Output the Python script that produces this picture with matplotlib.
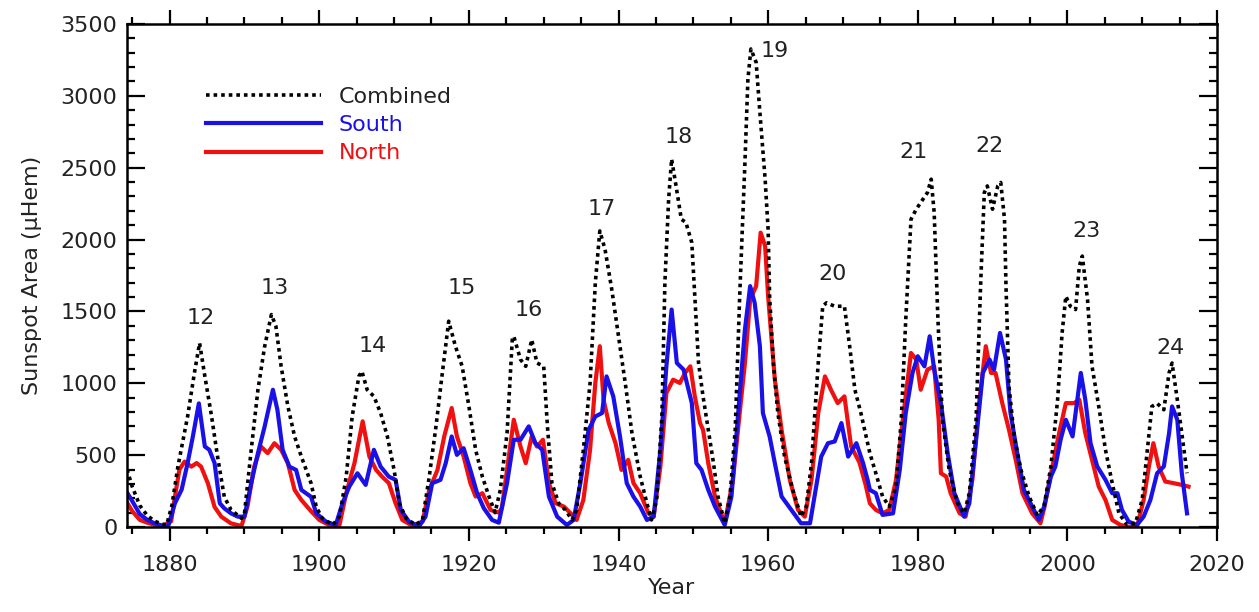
import matplotlib
matplotlib.use('Agg')
import matplotlib.pyplot as plt
from matplotlib.ticker import MultipleLocator

# Combined (N+S) area
combined_years = [1874.3, 1875, 1876, 1877, 1878, 1879, 1879.6, 1880.3, 1881.1, 1882.4, 1883.3, 1884.0,
                  1884.7, 1885.6, 1886.4, 1887.3, 1888.2, 1889.6, 1890.0, 1890.9, 1891.8, 1892.7, 1893.6,
                  1894.2, 1894.9, 1895.8, 1896.7, 1897.6, 1898.9, 1899.6, 1900.4, 1901.8, 1902.7, 1903.6,
                  1904.4, 1905.3, 1905.7, 1906.4, 1907.3, 1908.2, 1909.1, 1910.0, 1910.7, 1911.6, 1912.9,
                  1913.8, 1914.7, 1915.6, 1916.4, 1917.3, 1918.2, 1919.1, 1920.0, 1920.9, 1921.8, 1922.7,
                  1923.5, 1924.2, 1925.1, 1925.8, 1926.0, 1926.9, 1927.6, 1928.4, 1929.1, 1930.0, 1930.5,
                  1931.1, 1932.0, 1932.9, 1933.8, 1934.4, 1935.3, 1936.2, 1936.9, 1937.5, 1938.2, 1939.1,
                  1940.0, 1940.9, 1941.8, 1942.9, 1943.8, 1944.4, 1945.1, 1945.8, 1946.2, 1946.7, 1947.1,
                  1947.7, 1948.4, 1949.0, 1949.8, 1950.2, 1950.7, 1951.3, 1952.0, 1952.7, 1953.3, 1954.2,
                  1954.9, 1955.6, 1956.2, 1956.9, 1957.3, 1957.7, 1958.4, 1958.9, 1959.6, 1960.0, 1960.2,
                  1960.7, 1961.3, 1962.2, 1963.3, 1964.4, 1965.1, 1965.8, 1966.7, 1967.3, 1967.8, 1968.9,
                  1970.2, 1970.9, 1971.6, 1972.4, 1973.6, 1974.4, 1975.3, 1976.2, 1977.1, 1977.8, 1978.4,
                  1979.1, 1979.8, 1980.7, 1981.3, 1981.8, 1982.2, 1982.7, 1983.3, 1984.2, 1985.3, 1986.2,
                  1986.9, 1987.8, 1988.4, 1988.9, 1989.3, 1990.0, 1990.7, 1991.1, 1991.6, 1991.8, 1992.2,
                  1992.9, 1993.8, 1994.9, 1996.0, 1996.9, 1997.8, 1998.7, 1999.3, 1999.8, 2000.4, 2001.1,
                  2001.6, 2002.0, 2002.7, 2003.3, 2004.2, 2005.1, 2006.0, 2006.9, 2008.0, 2009.1, 2010.0,
                  2010.7, 2011.3, 2012.0, 2012.9, 2013.6, 2014.0, 2014.7, 2015.3, 2016.0]
combined_area = [400, 280, 150, 80, 40, 20, 15, 150, 420, 770, 1070, 1280,
                 1050, 770, 490, 210, 120, 60, 95, 537, 955, 1257, 1478,
                 1397, 1118, 840, 630, 490, 305, 140, 60, 14, 72, 350,
                 770, 1050, 1083, 955, 909, 793, 630, 397, 165, 60, 14,
                 50, 350, 700, 1050, 1432, 1257, 1118, 840, 537, 350, 210,
                 100, 258, 653, 1304, 1327, 1165, 1118, 1304, 1141, 1118, 700,
                 305, 165, 118, 49, 118, 537, 1002, 1699, 2060, 1932, 1653,
                 1327, 1002, 653, 351, 165, 49, 188, 769, 1699, 2280, 2560,
                 2371, 2141, 2120, 1978, 1606, 1141, 909, 676, 444, 212, 26,
                 212, 676, 1606, 2536, 3117, 3326, 3233, 2885, 2420, 2071, 1606,
                 1141, 793, 490, 258, 72, 142, 444, 1141, 1536, 1560, 1536,
                 1536, 1258, 955, 793, 514, 374, 212, 142, 281, 746, 1444,
                 2141, 2211, 2280, 2327, 2420, 2187, 1444, 746, 397, 165, 95,
                 235, 746, 1676, 2327, 2373, 2211, 2373, 2397, 2141, 1676, 979,
                 630, 397, 212, 80, 150, 421, 886, 1350, 1606, 1536, 1513,
                 1815, 1885, 1583, 1118, 839, 537, 305, 95, 14, 26, 188,
                 537, 839, 860, 816, 1072, 1141, 886, 653, 374]

# Southern hemisphere
south_years = [1874.3, 1875, 1876, 1877, 1878, 1879, 1879.8, 1880.7, 1881.6, 1882.4, 1883.1, 1883.9,
               1884.7, 1885.3, 1886.0, 1886.7, 1887.3, 1888.2, 1889.1, 1890.0, 1890.9, 1891.8, 1892.7,
               1893.8, 1894.4, 1895.1, 1896.0, 1896.9, 1897.6, 1898.9, 1899.6, 1900.9, 1902.2, 1903.1,
               1904.0, 1905.1, 1906.2, 1907.3, 1908.2, 1909.3, 1910.2, 1910.9, 1912.0, 1913.3, 1914.2,
               1915.1, 1916.2, 1916.9, 1917.7, 1918.4, 1919.3, 1920.2, 1921.1, 1922.0, 1923.1, 1924.0,
               1925.1, 1926.0, 1926.9, 1928.0, 1928.9, 1929.8, 1930.7, 1931.8, 1933.1, 1934.0, 1934.9,
               1936.0, 1936.9, 1937.8, 1938.4, 1939.3, 1940.2, 1941.1, 1942.0, 1942.9, 1943.8, 1944.7,
               1945.6, 1946.4, 1947.1, 1947.8, 1948.7, 1949.8, 1950.4, 1951.1, 1952.0, 1952.9, 1954.2,
               1955.1, 1956.0, 1956.9, 1957.6, 1958.2, 1958.9, 1959.3, 1960.2, 1960.9, 1961.8, 1963.1,
               1964.4, 1965.6, 1966.2, 1967.1, 1968.0, 1968.9, 1969.8, 1970.7, 1971.8, 1972.7, 1973.3,
               1973.6, 1974.4, 1975.3, 1976.7, 1977.6, 1978.4, 1979.3, 1980.0, 1980.9, 1981.6, 1982.2,
               1983.1, 1984.0, 1984.9, 1986.2, 1986.9, 1987.8, 1988.7, 1989.6, 1990.2, 1991.0, 1991.8,
               1992.4, 1993.3, 1994.2, 1995.3, 1996.2, 1996.9, 1997.8, 1998.4, 1999.1, 1999.8, 2000.7,
               2001.8, 2002.4, 2003.1, 2004.0, 2005.1, 2006.0, 2006.7, 2007.3, 2008.2, 2009.3, 2010.2,
               2011.1, 2012.0, 2012.9, 2013.6, 2014.0, 2014.7, 2015.3, 2016.0]
south_area = [240, 180, 90, 50, 25, 10, 5, 165, 260, 445, 630, 860,
              560, 537, 445, 165, 130, 95, 72, 72, 305, 514, 700,
              955, 816, 537, 420, 397, 258, 210, 95, 37, 14, 165,
              280, 374, 293, 537, 420, 350, 328, 118, 37, 2, 72,
              305, 328, 444, 630, 502, 548, 397, 235, 130, 49, 30,
              305, 607, 607, 700, 583, 537, 211, 72, 14, 49, 305,
              676, 769, 793, 1048, 909, 630, 305, 211, 142, 49, 72,
              537, 1118, 1513, 1141, 1095, 862, 444, 397, 258, 142, 14,
              212, 793, 1374, 1676, 1560, 1258, 793, 630, 444, 212, 119,
              26, 26, 212, 490, 583, 595, 723, 490, 583, 444, 328,
              258, 235, 84, 95, 397, 793, 1072, 1188, 1118, 1327, 1095,
              862, 514, 235, 72, 165, 607, 1072, 1165, 1095, 1350, 1165,
              793, 514, 258, 142, 50, 142, 351, 421, 607, 746, 630,
              1072, 886, 583, 421, 328, 235, 235, 119, 37, 14, 72,
              188, 374, 421, 653, 839, 746, 374, 95]

# Northern hemisphere
north_years = [1874.3, 1875, 1876, 1877, 1878, 1879, 1880.2, 1880.7, 1881.3, 1882.0, 1882.9, 1883.6,
               1884.2, 1885.1, 1886.0, 1886.9, 1888.2, 1889.6, 1890.4, 1891.3, 1892.2, 1893.1, 1894.0,
               1894.9, 1895.8, 1896.7, 1897.6, 1898.9, 1900.0, 1901.3, 1902.7, 1903.6, 1904.7, 1905.8,
               1906.7, 1907.6, 1908.4, 1909.3, 1910.2, 1911.1, 1912.4, 1913.8, 1914.7, 1915.8, 1916.7,
               1917.7, 1918.4, 1919.3, 1920.2, 1920.9, 1921.8, 1922.9, 1924.0, 1924.4, 1925.1, 1926.0,
               1926.9, 1927.6, 1928.4, 1929.1, 1929.9, 1930.7, 1931.6, 1932.7, 1933.6, 1934.4, 1935.3,
               1936.2, 1936.9, 1937.5, 1938.0, 1938.7, 1939.6, 1940.4, 1941.3, 1942.0, 1942.9, 1944.0,
               1944.7, 1945.6, 1946.4, 1947.3, 1948.2, 1948.9, 1949.6, 1950.2, 1950.9, 1951.3, 1952.0,
               1952.9, 1954.2, 1955.3, 1956.2, 1956.9, 1957.6, 1958.4, 1959.0, 1959.6, 1960.0, 1960.9,
               1961.8, 1962.9, 1964.0, 1964.9, 1965.8, 1966.7, 1967.6, 1968.4, 1969.3, 1970.2, 1971.1,
               1972.2, 1973.0, 1973.6, 1974.4, 1975.3, 1976.2, 1977.1, 1978.0, 1979.1, 1979.8, 1980.4,
               1981.3, 1982.2, 1982.8, 1983.1, 1983.8, 1984.4, 1985.6, 1986.4, 1987.3, 1988.2, 1989.1,
               1989.8, 1990.4, 1991.3, 1992.2, 1993.1, 1994.0, 1995.3, 1996.4, 1996.9, 1998.0, 1998.9,
               1999.8, 2000.9, 2001.6, 2002.4, 2003.3, 2004.2, 2005.1, 2006.0, 2007.1, 2008.4, 2009.3,
               2010.2, 2010.9, 2011.5, 2012.2, 2013.1, 2014.2, 2015.3, 2016.2]
north_area = [170, 110, 50, 30, 15, 5, 40, 210, 400, 455, 420, 445,
              420, 305, 140, 72, 25, 7, 142, 420, 560, 514, 583,
              537, 444, 258, 188, 110, 49, 14, 14, 235, 444, 735,
              490, 397, 350, 305, 165, 49, 10, 37, 258, 397, 630,
              828, 630, 490, 305, 212, 235, 118, 100, 130, 397, 746,
              560, 444, 630, 560, 607, 305, 165, 142, 95, 49, 188,
              537, 1002, 1258, 886, 723, 583, 397, 467, 305, 235, 95,
              72, 421, 932, 1025, 1002, 1072, 1118, 909, 723, 676, 444,
              212, 26, 328, 793, 1141, 1583, 1676, 2048, 1955, 1606, 1025,
              676, 328, 119, 72, 328, 793, 1048, 955, 862, 909, 560,
              450, 300, 165, 119, 95, 119, 328, 746, 1211, 1165, 955,
              1095, 1118, 746, 374, 351, 235, 95, 72, 328, 862, 1258,
              1072, 1072, 862, 676, 467, 235, 95, 26, 130, 421, 653,
              862, 862, 886, 653, 467, 281, 188, 49, 14, 0, 0,
              188, 421, 583, 421, 316, 305, 293, 281]

# cycle numbers and where they sit (year, area)
cycle_nums = ['12', '13', '14', '15', '16', '17', '18', '19', '20', '21', '22', '23', '24']
cycle_label_x = [1884.1, 1894.0, 1907.1, 1919.1, 1928.0, 1937.8, 1948.0, 1960.9, 1968.6, 1979.4, 1989.6, 2002.6, 2013.8]
cycle_label_y = [1455, 1664, 1257, 1664, 1513, 2211, 2713, 3315, 1758, 2606, 2652, 2060, 1246]

plt.rcParams['font.family'] = ['DejaVu Sans']
txt = '#222222'

fig = plt.figure(figsize=(12.59, 6.12), dpi=100)
ax = fig.add_axes([0.1009, 0.1389, 0.8657, 0.8219])

red_line, = ax.plot(north_years, north_area, color='#f01010', lw=3.0, label='North',
                    solid_joinstyle='round')
blue_line, = ax.plot(south_years, south_area, color='#1a10e8', lw=3.0, label='South',
                     solid_joinstyle='round')
comb_line, = ax.plot(combined_years, combined_area, color='black', lw=2.6, ls=(0, (1, 1.1)),
                     label='Combined')

for lab, x, y in zip(cycle_nums, cycle_label_x, cycle_label_y):
    ax.text(x, y, lab, ha='center', va='center', fontsize=16, color=txt)

ax.set_xlim(1874.3, 2020)
ax.set_ylim(0, 3500)
ax.xaxis.set_major_locator(MultipleLocator(20))
ax.xaxis.set_minor_locator(MultipleLocator(5))
ax.yaxis.set_major_locator(MultipleLocator(500))
ax.yaxis.set_minor_locator(MultipleLocator(100))

ax.tick_params(axis='x', which='both', direction='out', top=True, width=1.6, colors='black',
               labelsize=16, labelcolor=txt, pad=10)
ax.tick_params(axis='x', which='major', length=10)
ax.tick_params(axis='x', which='minor', length=5)
ax.tick_params(axis='y', which='both', direction='in', right=True, width=1.6,
               labelsize=16, labelcolor=txt, pad=7)
ax.tick_params(axis='y', which='major', length=13)
ax.tick_params(axis='y', which='minor', length=6)
for s in ax.spines.values():
    s.set_linewidth(1.8)

ax.set_xlabel('Year', fontsize=16, color=txt, labelpad=2)
ax.set_ylabel('Sunspot Area (μHem)', fontsize=16, color=txt, labelpad=13)

leg = ax.legend(handles=[comb_line, blue_line, red_line], loc='upper left',
                bbox_to_anchor=(0.072, 0.875), frameon=False, fontsize=16,
                handlelength=5.2, handletextpad=0.8, labelspacing=0.37, borderpad=0,
                borderaxespad=0)
for t, c in zip(leg.get_texts(), [txt, '#1a10e8', '#f01010']):
    t.set_color(c)

fig.savefig('out.png', dpi=100)
